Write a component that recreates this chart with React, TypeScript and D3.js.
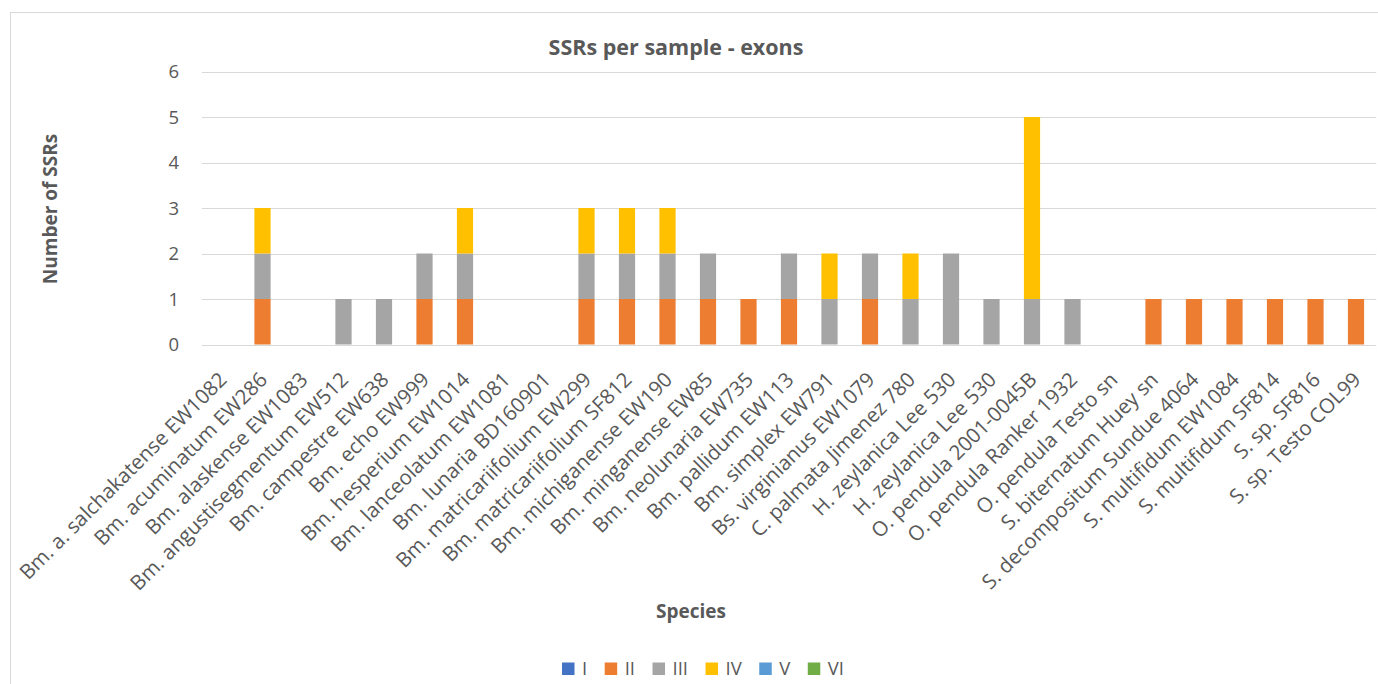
import React, { useEffect, useRef } from "react";
import * as d3 from "d3";

const categories: string[] = [
  "Bm. a. salchakatense EW1082",
  "Bm. acuminatum EW286",
  "Bm. alaskense EW1083",
  "Bm. angustisegmentum EW512",
  "Bm. campestre EW638",
  "Bm. echo EW999",
  "Bm. hesperium EW1014",
  "Bm. lanceolatum EW1081",
  "Bm. lunaria BD160901",
  "Bm. matricariifolium EW299",
  "Bm. matricariifolium SF812",
  "Bm. michiganense EW190",
  "Bm. minganense EW85",
  "Bm. neolunaria EW735",
  "Bm. pallidum EW113",
  "Bm. simplex EW791",
  "Bs. virginianus EW1079",
  "C. palmata Jimenez 780",
  "H. zeylanica Lee 530",
  "H. zeylanica Lee 530 ",
  "O. pendula 2001-0045B",
  "O. pendula Ranker 1932",
  "O. pendula Testo sn",
  "S. biternatum Huey sn",
  "S. decompositum Sundue 4064",
  "S. multifidum EW1084",
  "S. multifidum SF814",
  "S. sp. SF816",
  "S. sp. Testo COL99",
];

const seriesNames: string[] = ["I", "II", "III", "IV", "V", "VI"];
const seriesColors: string[] = ["#4472C4", "#ED7D31", "#A5A5A5", "#FFC000", "#5B9BD5", "#70AD47"];

const valuesI: number[] =   [0,0,0,0,0,0,0,0,0,0,0,0,0,0,0,0,0,0,0,0,0,0,0,0,0,0,0,0,0];
const valuesII: number[] =  [0,1,0,0,0,1,1,0,0,1,1,1,1,1,1,0,1,0,0,0,0,0,0,1,1,1,1,1,1];
const valuesIII: number[] = [0,1,0,1,1,1,1,0,0,1,1,1,1,0,1,1,1,1,2,1,1,1,0,0,0,0,0,0,0];
const valuesIV: number[] =  [0,1,0,0,0,0,1,0,0,1,1,1,0,0,0,1,0,1,0,0,4,0,0,0,0,0,0,0,0];
const valuesV: number[] =   [0,0,0,0,0,0,0,0,0,0,0,0,0,0,0,0,0,0,0,0,0,0,0,0,0,0,0,0,0];
const valuesVI: number[] =  [0,0,0,0,0,0,0,0,0,0,0,0,0,0,0,0,0,0,0,0,0,0,0,0,0,0,0,0,0];

const yTicks: number[] = [0, 1, 2, 3, 4, 5, 6];

const W = 1378;
const H = 684;
const FONT = "'Open Sans', sans-serif";
const TEXT = "#595959";

export default function App() {
  const ref = useRef<SVGSVGElement | null>(null);

  useEffect(() => {
    const svg = d3.select(ref.current);
    svg.selectAll("*").remove();

    const allSeries = [valuesI, valuesII, valuesIII, valuesIV, valuesV, valuesVI];
    const rows = categories.map((c, i) => {
      const r: any = { cat: c };
      seriesNames.forEach((s, k) => (r[s] = allSeries[k][i]));
      return r;
    });

    const left = 201.75;
    const right = 1376.25;
    const x = d3.scaleBand<string>().domain(categories).range([left, right]).paddingInner(0.6).paddingOuter(0.3);
    const y = d3.scaleLinear().domain([0, 6]).range([344.5, 71.5]);

    // chart border
    svg.append("rect")
      .attr("x", 10.5).attr("y", 12.5).attr("width", 1400).attr("height", 720)
      .attr("fill", "#fff").attr("stroke", "#d9d9d9").attr("stroke-width", 1);

    // gridlines
    svg.append("g").selectAll("line").data(yTicks).join("line")
      .attr("x1", left).attr("x2", right)
      .attr("y1", (d) => Math.round(y(d)) + 0.5).attr("y2", (d) => Math.round(y(d)) + 0.5)
      .attr("stroke", "#d9d9d9").attr("stroke-width", 1);

    // y tick labels
    svg.append("g").selectAll("text").data(yTicks).join("text")
      .attr("x", 179).attr("y", (d) => y(d))
      .attr("dy", "0.36em")
      .attr("text-anchor", "end")
      .attr("font-family", FONT).attr("font-size", 18.5).attr("fill", TEXT)
      .text((d) => String(d));

    // stacked bars
    const stack = d3.stack<any>().keys(seriesNames);
    const stacked = stack(rows);
    const g = svg.append("g");
    stacked.forEach((layer, k) => {
      g.append("g").attr("fill", seriesColors[k]).selectAll("rect")
        .data(layer.filter((d) => d[1] - d[0] > 0))
        .join("rect")
        .attr("x", (d: any) => x(d.data.cat) as number)
        .attr("width", x.bandwidth())
        .attr("y", (d) => y(d[1]))
        .attr("height", (d) => y(d[0]) - y(d[1]));
    });

    // x labels
    svg.append("g").selectAll("text").data(categories).join("text")
      .attr("transform", (d) => `translate(${(x(d) as number) + x.bandwidth() / 2 + 6},381) rotate(-45)`)
      .attr("text-anchor", "end")
      .attr("font-family", FONT).attr("font-size", 20.5).attr("fill", TEXT)
      .text((d) => d.trim());

    // title
    svg.append("text")
      .attr("x", 676).attr("y", 55).attr("text-anchor", "middle")
      .attr("font-family", FONT).attr("font-size", 21.5).attr("font-weight", "bold").attr("fill", TEXT)
      .text("SSRs per sample - exons");

    // y axis title
    svg.append("text")
      .attr("transform", "translate(57,209) rotate(-90)")
      .attr("text-anchor", "middle")
      .attr("font-family", FONT).attr("font-size", 19).attr("font-weight", "bold").attr("fill", TEXT)
      .text("Number of SSRs");

    // x axis title
    svg.append("text")
      .attr("x", 691).attr("y", 618).attr("text-anchor", "middle")
      .attr("font-family", FONT).attr("font-size", 19).attr("font-weight", "bold").attr("fill", TEXT)
      .text("Species");

    // legend
    const lg = svg.append("g");
    const items = seriesNames.map((name, k) => {
      const it = lg.append("g");
      it.append("rect").attr("width", 12.5).attr("height", 12.5).attr("y", 662.5).attr("fill", seriesColors[k]);
      const t = it.append("text").attr("x", 20).attr("y", 675)
        .attr("font-family", FONT).attr("font-size", 18.5).attr("fill", TEXT).text(name);
      const w = (t.node() as SVGTextElement).getComputedTextLength();
      return { it, w: 20 + w };
    });
    const gap = 17.5;
    const total = d3.sum(items, (d) => d.w) + gap * (items.length - 1);
    let cx = 703 - total / 2;
    items.forEach((d) => {
      d.it.attr("transform", `translate(${cx},0)`);
      cx += d.w + gap;
    });
  }, []);

  return (
    <svg
      ref={ref}
      width={W}
      height={H}
      style={{ position: "absolute", left: 0, top: 0, background: "#fff" }}
    />
  );
}
